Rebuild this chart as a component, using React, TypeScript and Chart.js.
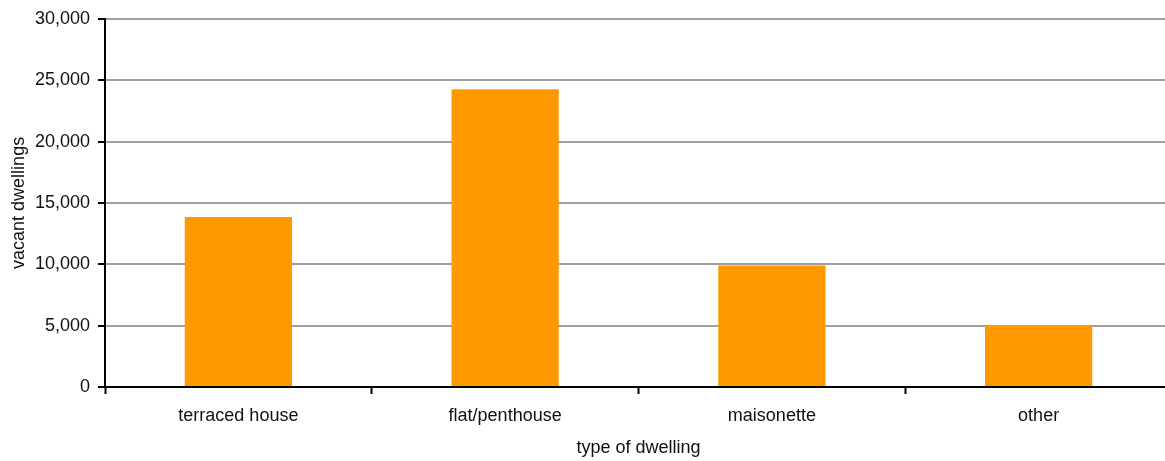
import React, { useEffect, useRef } from "react";
import { Chart, registerables } from "chart.js";

Chart.register(...registerables);

const categories = ["terraced house", "flat/penthouse", "maisonette", "other"];
const vacantDwellings = [13850, 24250, 9900, 5050];
const yTicks = [0, 5000, 10000, 15000, 20000, 25000, 30000];

const FONT = "'Liberation Sans', Arial, sans-serif";

export default function App() {
  const ref = useRef<HTMLCanvasElement | null>(null);
  useEffect(() => {
    if (!ref.current) return;
    const chart = new Chart(ref.current, {
      type: "bar",
      data: {
        labels: categories,
        datasets: [
          {
            data: vacantDwellings,
            backgroundColor: "#ff9900",
            borderWidth: 0,
            categoryPercentage: 0.402,
            barPercentage: 1,
          },
        ],
      },
      options: {
        animation: false,
        responsive: false,
        devicePixelRatio: 1,
        layout: { padding: { top: 13, right: 0, left: 0, bottom: 0 } },
        plugins: { legend: { display: false }, tooltip: { enabled: false } },
        scales: {
          x: {
            offset: true,
            grid: {
              offset: true,
              drawOnChartArea: false,
              drawTicks: true,
              tickLength: 7,
              tickColor: "#000",
              tickWidth: 2,
            },
            border: { display: true, color: "#000", width: 2 },
            ticks: { color: "#111", font: { family: FONT, size: 18 }, padding: 11, maxRotation: 0 },
            title: {
              display: true,
              text: "type of dwelling",
              color: "#111",
              font: { family: FONT, size: 18 },
              padding: { top: 4, bottom: 2 },
            },
            afterFit: (s: any) => {
              s.height = 74;
            },
          },
          y: {
            min: 0,
            max: 30000,
            afterBuildTicks: (s: any) => {
              s.ticks = yTicks.map((v) => ({ value: v }));
            },
            grid: {
              color: "#a0a0a0",
              lineWidth: 2,
              drawTicks: true,
              tickLength: 7,
              tickColor: "#000",
              tickWidth: 2,
            },
            border: { display: true, color: "#000", width: 2 },
            ticks: {
              color: "#111",
              font: { family: FONT, size: 18 },
              padding: 8,
              callback: (v: any) => Number(v).toLocaleString("en-US"),
            },
            title: {
              display: true,
              text: "vacant dwellings",
              color: "#111",
              font: { family: FONT, size: 18 },
              padding: { top: 8, bottom: 4 },
            },
            afterFit: (s: any) => {
              s.width = 105;
            },
          },
        },
      },
    });
    return () => chart.destroy();
  }, []);
  return (
    <div style={{ position: "fixed", left: 0, top: 0, width: 1165, height: 461, overflow: "hidden", background: "#fff" }}>
      <canvas ref={ref} width={1172} height={461} style={{ display: "block", width: 1172, height: 461 }} />
    </div>
  );
}
